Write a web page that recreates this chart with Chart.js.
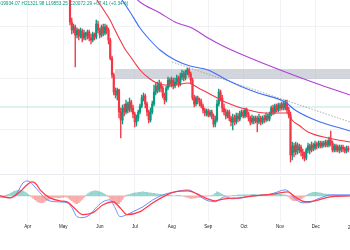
<!DOCTYPE html>
<html>
<head>
<meta charset="utf-8">
<script src="https://cdn.jsdelivr.net/npm/chart.js@4.4.1/dist/chart.umd.min.js"></script>
<style>
  html, body { margin: 0; padding: 0; background: #fff; overflow: hidden; }
  #wrap { position: relative; width: 350px; height: 250px; overflow: hidden; }
  #price { position: absolute; left: 0; top: 0; }
  #macd { position: absolute; left: 0; top: 174px; }
  #sep { position: absolute; left: 0; top: 174px; width: 350px; border-top: 1px solid #e9ebf0; }
  #ohlc { position: absolute; left: -3px; top: 1px; font: 4.7px "Liberation Sans", Arial, sans-serif; color: #089981; white-space: nowrap; }
  #yr { position: absolute; top: 225px; font: 4.5px "Liberation Sans", Arial, sans-serif; color: #131722; white-space: nowrap; }
</style>
</head>
<body>
<div id="wrap">
  <canvas id="price" width="350" height="174"></canvas>
  <div id="sep"></div>
  <canvas id="macd" width="350" height="76"></canvas>
  <div id="ohlc">O19934.07 H21321.98 L19853.25 C20072.29 +67.41 (+0.34%)</div>
  <div id="yr">2025</div>
</div>
<script>
// x axis is in trading days; month labels sit at the first day of each month
const monthLabels = ["Apr", "May", "Jun", "Jul", "Aug", "Sep", "Oct", "Nov", "Dec"];
const monthDays = [15.8, 36.2, 57.1, 77.1, 98.1, 119, 139.4, 160, 180.4];
const nextYearDay = 201.7;
const priceGrid = [173, 122, 71];

// daily candles, first visible one is day 40
const firstDay = 40;
const opens = [
  210,178,170,173,165,170,164,169,162,167,
  164,168,162,160,166,163,176,170,165,173,
  167,173,170,160,142,125,108,105,110,88,
  80,92,88,96,90,98,92,86,78,82,
  88,94,102,104,96,88,80,88,96,108,
  114,110,116,112,104,100,112,120,116,120,
  114,118,122,116,123,126,122,128,130,126,
  120,102,96,102,100,98,94,90,87,89,
  85,88,84,76,80,96,108,102,92,88,
  84,88,82,78,82,78,84,81,86,88,
  84,90,86,82,78,82,79,82,78,82,
  78,82,80,84,81,86,92,88,94,90,
  95,92,96,92,97,90,85,45,54,48,
  55,50,53,48,44,42,50,54,50,55,
  52,56,54,57,54,57,55,58,55,60,
  57,50,54,50,53,50,53,51,49,52
];
const highs = [
  212,182,176,175,172,171,172,171,170,168,
  170,170,166,168,167,180,179,172,175,176,
  176,175,172,162,144,127,112,112,111,92,
  95,96,100,98,102,100,95,88,85,90,
  96,105,107,106,98,90,92,99,115,117,
  118,120,118,114,107,114,123,122,123,122,
  122,125,124,127,130,129,130,132,132,128,
  122,105,104,104,102,101,96,92,91,91,
  90,90,86,84,100,111,110,105,96,91,
  90,90,84,86,85,87,87,89,90,90,
  92,92,88,84,85,84,84,84,86,84,
  84,85,87,86,88,94,95,96,96,97,
  97,98,98,100,100,93,88,58,57,58,
  57,56,55,51,48,52,57,56,58,57,
  59,58,59,59,59,59,60,60,63,69,
  59,56,56,55,55,55,55,53,54,54
];
const lows = [
  175,166,167,133,162,160,162,158,160,160,
  161,159,156,158,160,161,167,162,163,164,
  165,166,156,140,122,105,102,100,82,62,
  76,84,86,87,88,88,82,73,74,79,
  86,92,99,92,84,77,78,86,94,105,
  107,108,108,102,96,98,110,113,113,111,
  112,115,113,114,120,119,120,125,123,116,
  100,93,94,96,94,92,87,84,84,83,
  83,81,73,73,78,94,99,88,85,81,
  82,79,74,70,75,76,78,79,83,82,
  82,83,79,75,76,76,77,68,76,75,
  76,77,78,79,79,84,85,86,88,88,
  89,90,90,90,87,82,38,40,43,45,
  46,47,44,41,39,40,47,46,48,49,
  50,51,52,52,52,53,53,53,53,54,
  48,48,48,48,47,48,48,47,47,48
];
const closes = [
  178,170,173,165,170,164,169,162,167,164,
  168,162,160,166,163,176,170,165,173,167,
  173,170,160,142,125,108,105,110,88,80,
  92,88,96,90,98,92,86,78,82,88,
  94,102,104,96,88,80,88,96,108,114,
  110,116,112,104,100,112,120,116,120,114,
  118,122,116,123,126,122,128,130,126,120,
  102,96,102,100,98,94,90,87,89,85,
  88,84,76,80,96,108,102,92,88,84,
  88,82,78,82,78,84,81,86,88,84,
  90,86,82,78,82,79,82,78,82,78,
  82,80,84,81,86,92,88,94,90,95,
  92,96,92,97,90,85,45,54,48,55,
  50,53,48,44,42,50,54,50,55,52,
  56,54,57,54,57,55,58,55,60,57,
  50,54,50,53,50,53,51,49,52,50
];

// moving averages
const fastMaDays = [53.1,55.4,60,62.9,65.7,68.6,71.4,74.3,77.1,80,85.7,89.7,94.3,100,107.4,114.3,118.9,128.6,141.7,151.4,164.6,166.9,171.4,176,187.4,200];
const fastMaValues = [205,200,188,180,170,160,151,144,137,130,121,117,115,115,117,111,107,98,90,87,87,80,74,68,62,58];
const midMaDays = [65.7,69.7,74.3,80,85.7,91.4,100,108.6,118.9,128.6,137.1,147.4,162.9,168.6,180,200];
const midMaValues = [210,200,188,172,160,150,140,134,130,121,114,107,98,90,80,69];
const slowMaDays = [74.3,80,91.4,100,109.7,118.9,128.6,145.7,164.6,180,200];
const slowMaValues = [208,198,187,178,172,162,153,140,127,117,105];

// drawings
const trendDays = [98.3, 200];
const trendValues = [138, 78];
const levelDays = [0, 200];
const levelValues = [93, 93];
const zoneDays = [65.7, 200];
const zoneLow = 121;
const zoneHigh = 131;

// MACD panel
const macdDays = [0,5.7,9.7,13.1,16,18.9,22.9,26.9,32.6,38.3,41.1,44,46.9,51.4,55.4,58.9,62.9,65.7,68.6,72.6,76,81.7,87.4,93.1,100,107.4,111.4,115.4,118.9,122.9,126.9,128.6,132.6,138.3,144,153.1,157.1,162.9,164.6,168.6,173.1,176,181.7,189.7,200];
const macdValues = [-10,-20,30,130,150,110,30,-40,-60,-70,-120,-210,-220,-190,-110,-60,-40,-120,-210,-190,-160,-110,-40,10,40,60,30,-20,-50,-60,-20,-10,-30,-20,0,10,30,60,50,-30,-70,-70,-30,10,10];
const signalDays = [0,5.7,11.4,15.4,18.3,20.6,22.9,28.6,34.3,38.3,41.7,47.4,53.1,58.9,64.6,68.6,72.6,80,87.4,95.4,100,107.4,112.6,117.1,122.9,128.6,137.1,145.7,157.1,164.6,168.6,174.3,180,188.6,200];
const signalValues = [0,-20,40,110,140,120,60,-20,-50,-60,-110,-190,-170,-90,-60,-120,-190,-160,-70,10,40,50,20,-20,-50,-30,-20,0,20,40,-10,-60,-50,-10,0];
const histValues = [
  0,-5,-5,5,10,15,25,35,45,50,
  55,60,55,50,40,30,15,5,-10,-25,
  -40,-55,-65,-70,-70,-65,-55,-45,-35,-25,
  -20,-15,-15,-20,-20,-15,-15,-10,-10,-20,
  -35,-50,-65,-75,-80,-70,-55,-35,-15,5,
  20,30,40,45,50,50,45,40,35,25,
  15,5,-10,-30,-50,-70,-85,-90,-80,-60,
  -35,-10,5,10,15,20,25,30,30,35,
  35,40,40,35,35,30,30,25,25,20,
  20,15,15,10,10,10,5,5,5,0,
  0,5,5,5,0,-5,-10,-15,-20,-25,
  -25,-20,-20,-15,-15,-10,-10,-5,-5,0,
  0,5,10,25,40,35,25,15,5,0,
  -5,-5,0,5,5,5,10,10,10,10,
  10,10,10,10,15,15,15,10,10,10,
  10,10,15,15,15,20,20,20,20,15,
  15,15,10,10,5,-10,-30,-45,-50,-50,
  -45,-40,-30,-20,-10,5,15,25,30,35,
  35,35,30,30,25,20,20,15,15,10,
  10,5,5,5,5,5,0,0,0,0
];

const upColor = "#089981";
const downColor = "#f23645";
const gridColor = "#f0f2f6";
const fontFamily = "'Liberation Sans', Arial, sans-serif";

const pts = (xs, ys) => xs.map((x, k) => ({ x, y: ys[k] }));
const candleColors = opens.map((o, k) => (closes[k] >= o ? upColor : downColor));

function dayAxis(showLabels) {
  return {
    type: "linear",
    min: 0,
    max: 200,
    offset: false,
    grid: { color: gridColor, drawTicks: false, offset: false },
    border: { display: false },
    afterBuildTicks: (s) => { s.ticks = monthDays.map((v) => ({ value: v })); },
    ticks: {
      display: showLabels,
      autoSkip: false,
      maxRotation: 0,
      padding: 2,
      color: "#131722",
      font: { size: 4.5, family: fontFamily },
      callback: (v, i) => monthLabels[i],
    },
  };
}

const lineStyle = (color, width) => ({
  type: "line",
  borderColor: color,
  borderWidth: width,
  pointRadius: 0,
  fill: false,
  cubicInterpolationMode: "monotone",
});

new Chart(document.getElementById("price"), {
  type: "bar",
  data: {
    datasets: [
      {
        type: "line",
        data: pts(zoneDays, [zoneLow, zoneLow]),
        borderColor: "transparent",
        backgroundColor: "rgba(182,185,196,0.6)",
        pointRadius: 0,
        fill: { value: zoneHigh },
        order: 9,
      },
      { ...lineStyle("rgba(38,166,154,0.3)", 1), data: pts(levelDays, levelValues), order: 8 },
      { ...lineStyle("#9598a1", 0.8), borderDash: [1.5, 1.5], data: pts(trendDays, trendValues), order: 7 },
      {
        data: opens.map((o, k) => ({ x: firstDay + k, y: [lows[k], highs[k]] })),
        backgroundColor: candleColors,
        barThickness: 0.7,
        grouped: false,
        order: 6,
      },
      {
        data: opens.map((o, k) => ({ x: firstDay + k, y: [o, closes[k]] })),
        backgroundColor: candleColors,
        barThickness: 1.5,
        minBarLength: 0.8,
        grouped: false,
        order: 5,
      },
      { ...lineStyle("#b041d6", 1.1), data: pts(slowMaDays, slowMaValues), order: 3 },
      { ...lineStyle("#3f6ff5", 1.1), data: pts(midMaDays, midMaValues), order: 2 },
      { ...lineStyle("#f23645", 1.1), data: pts(fastMaDays, fastMaValues), order: 1 },
    ],
  },
  options: {
    responsive: false,
    animation: false,
    devicePixelRatio: 1,
    layout: { padding: 0 },
    plugins: { legend: { display: false }, tooltip: { enabled: false } },
    scales: {
      x: dayAxis(false),
      y: {
        min: 26,
        max: 200,
        grid: { color: gridColor, drawTicks: false },
        border: { display: false },
        afterBuildTicks: (s) => { s.ticks = priceGrid.map((v) => ({ value: v })); },
        ticks: { display: false },
      },
    },
  },
});

const macdChart = new Chart(document.getElementById("macd"), {
  type: "bar",
  data: {
    datasets: [
      {
        data: histValues.map((v, k) => ({ x: k, y: v })),
        backgroundColor: histValues.map((v) => (v >= 0 ? "rgba(38,166,154,0.45)" : "rgba(239,83,80,0.45)")),
        barThickness: 1.3,
        grouped: false,
        order: 5,
      },
      { ...lineStyle("#6d8dff", 1), data: pts(macdDays, macdValues), order: 2 },
      { ...lineStyle("#ff3b4a", 1.3), data: pts(signalDays, signalValues), order: 1 },
    ],
  },
  options: {
    responsive: false,
    animation: false,
    devicePixelRatio: 1,
    layout: { padding: { top: 2, bottom: 19, left: 0, right: 0 } },
    plugins: { legend: { display: false }, tooltip: { enabled: false } },
    scales: {
      x: dayAxis(true),
      y: { display: false, min: -260, max: 200 },
    },
  },
});

const yr = document.getElementById("yr");
yr.style.left = (macdChart.scales.x.getPixelForValue(nextYearDay) - yr.offsetWidth / 2) + "px";
</script>
</body>
</html>
